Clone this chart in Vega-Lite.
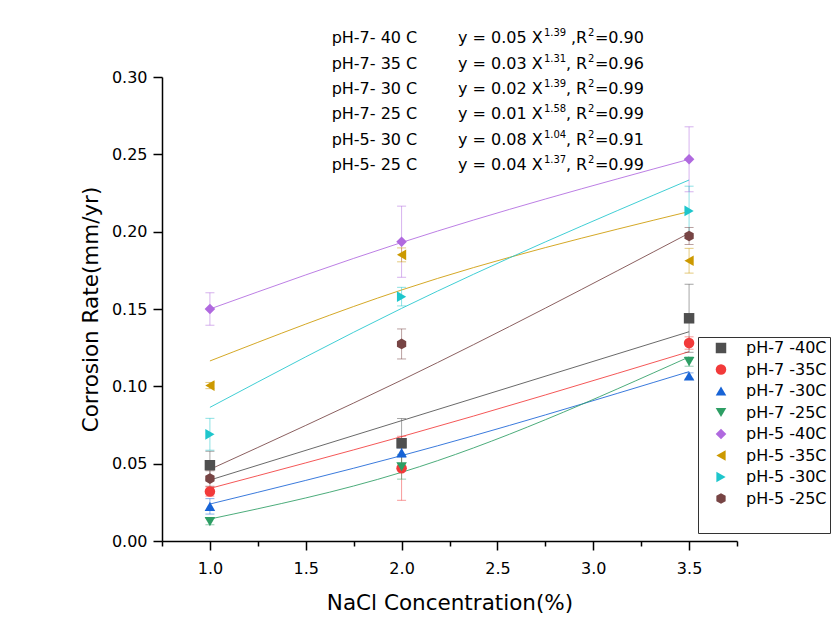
{
  "$schema": "https://vega.github.io/schema/vega-lite/v6.json",
  "width": 575,
  "height": 464,
  "autosize": {"type": "none"},
  "padding": {"left": 162, "top": 77, "right": 96, "bottom": 101},
  "background": "white",
  "config": {
    "view": {"stroke": null},
    "font": "DejaVu Sans",
    "axis": {
      "grid": false,
      "domainColor": "black",
      "domainWidth": 1.5,
      "tickColor": "black",
      "tickWidth": 1.5,
      "labelFont": "DejaVu Sans",
      "labelFontSize": 16,
      "labelColor": "black",
      "labelOverlap": false,
      "labelFlush": false,
      "titleFont": "DejaVu Sans",
      "titleFontSize": 21.5,
      "titleFontWeight": "normal",
      "titleColor": "black"
    },
    "legend": {
      "strokeColor": "#333333",
      "fillColor": "white",
      "padding": 3,
      "symbolSize": 120,
      "symbolOffset": 12,
      "symbolStrokeWidth": 0,
      "labelOffset": 17,
      "labelFont": "DejaVu Sans",
      "labelFontSize": 16,
      "labelColor": "black",
      "rowPadding": 5.5,
      "titleOrient": "bottom",
      "titleFontSize": 18,
      "titlePadding": 5
    }
  },
  "datasets": {
    "points": [
      {"series": "pH-7 -40C", "x": 1.0, "y": 0.049, "lo": 0.040, "hi": 0.058},
      {"series": "pH-7 -40C", "x": 2.0, "y": 0.0632, "lo": 0.0472, "hi": 0.0792},
      {"series": "pH-7 -40C", "x": 3.5, "y": 0.144, "lo": 0.122, "hi": 0.166},
      {"series": "pH-7 -35C", "x": 1.0, "y": 0.032, "lo": 0.029, "hi": 0.035},
      {"series": "pH-7 -35C", "x": 2.0, "y": 0.047, "lo": 0.0263, "hi": 0.0677},
      {"series": "pH-7 -35C", "x": 3.5, "y": 0.128, "lo": 0.124, "hi": 0.132},
      {"series": "pH-7 -30C", "x": 1.0, "y": 0.0224, "lo": 0.0174, "hi": 0.0274},
      {"series": "pH-7 -30C", "x": 2.0, "y": 0.0571, "lo": 0.0541, "hi": 0.0601},
      {"series": "pH-7 -30C", "x": 3.5, "y": 0.1067, "lo": 0.1047, "hi": 0.1087},
      {"series": "pH-7 -25C", "x": 1.0, "y": 0.0125, "lo": 0.0105, "hi": 0.0145},
      {"series": "pH-7 -25C", "x": 2.0, "y": 0.048, "lo": 0.040, "hi": 0.056},
      {"series": "pH-7 -25C", "x": 3.5, "y": 0.116, "lo": 0.113, "hi": 0.119},
      {"series": "pH-5 -40C", "x": 1.0, "y": 0.150, "lo": 0.1395, "hi": 0.1605},
      {"series": "pH-5 -40C", "x": 2.0, "y": 0.1935, "lo": 0.1705, "hi": 0.2165},
      {"series": "pH-5 -40C", "x": 3.5, "y": 0.2468, "lo": 0.2258, "hi": 0.2678},
      {"series": "pH-5 -35C", "x": 1.0, "y": 0.1005, "lo": 0.0985, "hi": 0.1025},
      {"series": "pH-5 -35C", "x": 2.0, "y": 0.185, "lo": 0.1805, "hi": 0.1895},
      {"series": "pH-5 -35C", "x": 3.5, "y": 0.1812, "lo": 0.1732, "hi": 0.1892},
      {"series": "pH-5 -30C", "x": 1.0, "y": 0.069, "lo": 0.0587, "hi": 0.0793},
      {"series": "pH-5 -30C", "x": 2.0, "y": 0.158, "lo": 0.152, "hi": 0.164},
      {"series": "pH-5 -30C", "x": 3.5, "y": 0.2134, "lo": 0.1974, "hi": 0.2294},
      {"series": "pH-5 -25C", "x": 1.0, "y": 0.0404, "lo": 0.0354, "hi": 0.0454},
      {"series": "pH-5 -25C", "x": 2.0, "y": 0.1274, "lo": 0.1177, "hi": 0.1371},
      {"series": "pH-5 -25C", "x": 3.5, "y": 0.1972, "lo": 0.1917, "hi": 0.2027}
    ],
    "fits": [
      {"series": "pH-7 -40C", "x": 1.0, "y": 0.0394},
      {"series": "pH-7 -40C", "x": 2.0, "y": 0.0778},
      {"series": "pH-7 -40C", "x": 3.5, "y": 0.1353},
      {"series": "pH-7 -35C", "x": 1.0, "y": 0.034},
      {"series": "pH-7 -35C", "x": 2.0, "y": 0.0675},
      {"series": "pH-7 -35C", "x": 3.5, "y": 0.1224},
      {"series": "pH-7 -30C", "x": 1.0, "y": 0.0239},
      {"series": "pH-7 -30C", "x": 2.0, "y": 0.0552},
      {"series": "pH-7 -30C", "x": 3.5, "y": 0.1095},
      {"series": "pH-7 -25C", "x": 1.0, "y": 0.0142},
      {"series": "pH-7 -25C", "x": 2.0, "y": 0.0444},
      {"series": "pH-7 -25C", "x": 3.5, "y": 0.119},
      {"series": "pH-5 -40C", "x": 1.0, "y": 0.150},
      {"series": "pH-5 -40C", "x": 2.0, "y": 0.193},
      {"series": "pH-5 -40C", "x": 3.5, "y": 0.2468},
      {"series": "pH-5 -35C", "x": 1.0, "y": 0.1164},
      {"series": "pH-5 -35C", "x": 2.0, "y": 0.1623},
      {"series": "pH-5 -35C", "x": 3.5, "y": 0.213},
      {"series": "pH-5 -30C", "x": 1.0, "y": 0.0864},
      {"series": "pH-5 -30C", "x": 2.0, "y": 0.1504},
      {"series": "pH-5 -30C", "x": 3.5, "y": 0.2334},
      {"series": "pH-5 -25C", "x": 1.0, "y": 0.0463},
      {"series": "pH-5 -25C", "x": 2.0, "y": 0.104},
      {"series": "pH-5 -25C", "x": 3.5, "y": 0.199}
    ],
    "notes": [
      {"row": 0, "label": "pH-7- 40 C", "main": "y = 0.05 X", "exp": "1.39", "mid": "\u200b ,R", "sq": "2", "tail": "=0.90"},
      {"row": 1, "label": "pH-7- 35 C", "main": "y = 0.03 X", "exp": "1.31", "mid": ", R", "sq": "2", "tail": "=0.96"},
      {"row": 2, "label": "pH-7- 30 C", "main": "y = 0.02 X", "exp": "1.39", "mid": ", R", "sq": "2", "tail": "=0.99"},
      {"row": 3, "label": "pH-7- 25 C", "main": "y = 0.01 X", "exp": "1.58", "mid": ", R", "sq": "2", "tail": "=0.99"},
      {"row": 4, "label": "pH-5- 30 C", "main": "y = 0.08 X", "exp": "1.04", "mid": ", R", "sq": "2", "tail": "=0.91"},
      {"row": 5, "label": "pH-5- 25 C", "main": "y = 0.04 X", "exp": "1.37", "mid": ", R", "sq": "2", "tail": "=0.99"}
    ]
  },
  "layer": [
    {
      "layer": [
        {
          "data": {"name": "fits"},
          "mark": {"type": "line", "strokeWidth": 1, "opacity": 0.85, "interpolate": "monotone"},
          "encoding": {
            "x": {
              "field": "x", "type": "quantitative", "title": "NaCl Concentration(%)",
              "scale": {"domain": [0.75, 3.75], "nice": false, "zero": false},
              "axis": {
                "values": [0.75, 1, 1.25, 1.5, 1.75, 2, 2.25, 2.5, 2.75, 3, 3.25, 3.5, 3.75],
                "format": ".1f",
                "labelExpr": "abs(datum.value*2-round(datum.value*2))<0.001 ? datum.label : ''",
                "tickSize": {"condition": {"test": "abs(datum.value*2-round(datum.value*2))<0.001", "value": 9}, "value": 5},
                "labelPadding": 10,
                "titlePadding": 16
              }
            },
            "y": {
              "field": "y", "type": "quantitative", "title": "Corrosion Rate(mm/yr)",
              "scale": {"domain": [0, 0.3], "nice": false},
              "axis": {
                "values": [0, 0.025, 0.05, 0.075, 0.1, 0.125, 0.15, 0.175, 0.2, 0.225, 0.25, 0.275, 0.3],
                "format": ".2f",
                "labelExpr": "abs(datum.value*20-round(datum.value*20))<0.001 ? datum.label : ''",
                "tickSize": {"condition": {"test": "abs(datum.value*20-round(datum.value*20))<0.001", "value": 9}, "value": 5},
                "labelPadding": 6,
                "titlePadding": 9
              }
            },
            "stroke": {
              "field": "series", "type": "nominal", "legend": null,
              "scale": {
                "domain": ["pH-5 -25C", "pH-5 -30C", "pH-5 -35C", "pH-5 -40C", "pH-7 -25C", "pH-7 -30C", "pH-7 -35C", "pH-7 -40C"],
                "range": ["#774444", "#1ec6cc", "#cc9900", "#b069df", "#2d9e64", "#1763d6", "#f23a3a", "#4f4f4f"]
              }
            }
          }
        },
        {
          "data": {"name": "points"},
          "mark": {"type": "rule", "strokeWidth": 1, "opacity": 0.5},
          "encoding": {
            "x": {"field": "x", "type": "quantitative", "title": "NaCl Concentration(%)"},
            "y": {"field": "lo", "type": "quantitative", "title": "Corrosion Rate(mm/yr)"},
            "y2": {"field": "hi"},
            "stroke": {"field": "series", "type": "nominal", "legend": null}
          }
        },
        {
          "data": {"name": "points"},
          "mark": {"type": "point", "shape": "M-1,0L1,0", "filled": false, "size": 81, "strokeWidth": 1, "opacity": 0.5},
          "encoding": {
            "x": {"field": "x", "type": "quantitative", "title": "NaCl Concentration(%)"},
            "y": {"field": "lo", "type": "quantitative", "title": "Corrosion Rate(mm/yr)"},
            "stroke": {"field": "series", "type": "nominal", "legend": null}
          }
        },
        {
          "data": {"name": "points"},
          "mark": {"type": "point", "shape": "M-1,0L1,0", "filled": false, "size": 81, "strokeWidth": 1, "opacity": 0.5},
          "encoding": {
            "x": {"field": "x", "type": "quantitative", "title": "NaCl Concentration(%)"},
            "y": {"field": "hi", "type": "quantitative", "title": "Corrosion Rate(mm/yr)"},
            "stroke": {"field": "series", "type": "nominal", "legend": null}
          }
        },
        {
          "data": {"name": "points"},
          "mark": {"type": "point", "filled": true, "opacity": 1},
          "encoding": {
            "x": {"field": "x", "type": "quantitative", "title": "NaCl Concentration(%)"},
            "y": {"field": "y", "type": "quantitative", "title": "Corrosion Rate(mm/yr)"},
            "color": {
              "field": "series", "type": "nominal",
              "legend": {"title": "\u00a0", "orient": "none", "legendX": 536, "legendY": 260},
              "scale": {
                "domain": ["pH-7 -40C", "pH-7 -35C", "pH-7 -30C", "pH-7 -25C", "pH-5 -40C", "pH-5 -35C", "pH-5 -30C", "pH-5 -25C"],
                "range": ["#4f4f4f", "#f23a3a", "#1763d6", "#2d9e64", "#b069df", "#cc9900", "#1ec6cc", "#774444"]
              }
            },
            "shape": {
              "field": "series", "type": "nominal",
              "legend": {"title": "\u00a0", "orient": "none", "legendX": 536, "legendY": 260},
              "scale": {
                "domain": ["pH-7 -40C", "pH-7 -35C", "pH-7 -30C", "pH-7 -25C", "pH-5 -40C", "pH-5 -35C", "pH-5 -30C", "pH-5 -25C"],
                "range": ["square", "circle", "triangle-up", "triangle-down", "diamond", "triangle-left", "triangle-right", "M0,-1L0.866,-0.5L0.866,0.5L0,1L-0.866,0.5L-0.866,-0.5Z"]
              }
            },
            "size": {
              "field": "series", "type": "nominal",
              "legend": {"title": "\u00a0", "orient": "none", "legendX": 536, "legendY": 260},
              "scale": {
                "domain": ["pH-7 -40C", "pH-7 -35C", "pH-7 -30C", "pH-7 -25C", "pH-5 -40C", "pH-5 -35C", "pH-5 -30C", "pH-5 -25C"],
                "range": [110, 115, 140, 140, 170, 155, 150, 135]
              }
            }
          }
        }
      ]
    },
    {
      "data": {"name": "notes"},
      "encoding": {
        "y": {"field": "row", "type": "ordinal", "axis": null, "scale": {"type": "point", "range": [-33.7, 93], "padding": 0}}
      },
      "layer": [
        {
          "mark": {"type": "text", "align": "left", "baseline": "alphabetic", "fontSize": 16, "font": "DejaVu Sans", "color": "black"},
          "encoding": {"x": {"datum": 1.635, "type": "quantitative"}, "text": {"field": "label"}}
        },
        {
          "mark": {"type": "text", "align": "left", "baseline": "alphabetic", "fontSize": 16, "font": "DejaVu Sans", "color": "black"},
          "encoding": {"x": {"datum": 2.294, "type": "quantitative"}, "text": {"field": "main"}}
        },
        {
          "mark": {"type": "text", "align": "left", "baseline": "alphabetic", "fontSize": 10, "font": "DejaVu Sans", "color": "black", "dx": 86, "dy": -7},
          "encoding": {"x": {"datum": 2.294, "type": "quantitative"}, "text": {"field": "exp"}}
        },
        {
          "mark": {"type": "text", "align": "left", "baseline": "alphabetic", "fontSize": 16, "font": "DejaVu Sans", "color": "black", "dx": 108},
          "encoding": {"x": {"datum": 2.294, "type": "quantitative"}, "text": {"field": "mid"}}
        },
        {
          "mark": {"type": "text", "align": "left", "baseline": "alphabetic", "fontSize": 10, "font": "DejaVu Sans", "color": "black", "dx": 130, "dy": -7},
          "encoding": {"x": {"datum": 2.294, "type": "quantitative"}, "text": {"field": "sq"}}
        },
        {
          "mark": {"type": "text", "align": "left", "baseline": "alphabetic", "fontSize": 16, "font": "DejaVu Sans", "color": "black", "dx": 137},
          "encoding": {"x": {"datum": 2.294, "type": "quantitative"}, "text": {"field": "tail"}}
        }
      ]
    }
  ],
  "resolve": {"scale": {"y": "independent"}}
}
